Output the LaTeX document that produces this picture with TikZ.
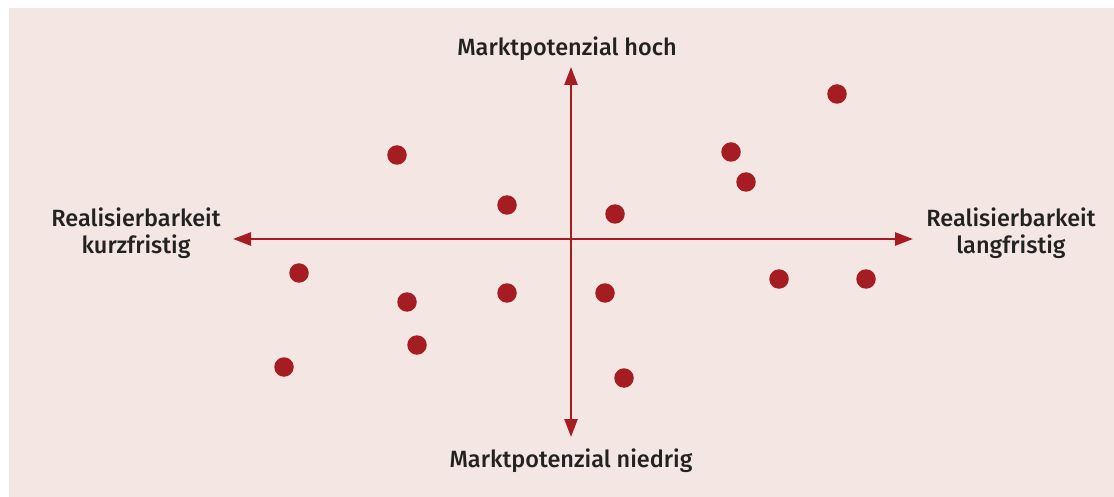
\documentclass[tikz,border=0pt]{standalone}
\usepackage{fontspec}
\setmainfont{Fira Sans}[BoldFont={Fira Sans Medium}]
\usetikzlibrary{arrows.meta}
\definecolor{bgpink}{HTML}{F4E6E2}
\definecolor{axred}{HTML}{A51C22}
\definecolor{txt}{HTML}{222222}
\tikzset{
  axis/.style={draw=axred, line width=2.6pt, {Triangle[length=18pt,width=13pt]}-{Triangle[length=18pt,width=13pt]}},
  dot/.style={circle, fill=axred, inner sep=0pt, minimum size=19.5pt},
  lbl/.style={text=txt, font=\fontsize{23.5}{27}\selectfont\bfseries, align=center, inner sep=0pt},
}
\begin{document}
\begin{tikzpicture}[x=1pt,y=-1pt]
\useasboundingbox (0,0) rectangle (1114,497);
\fill[white] (0,0) rectangle (1114,497);
\fill[bgpink] (9,8) rectangle (1114,497);
\coordinate (L) at (233,239);
\coordinate (R) at (913,239);
\coordinate (T) at (571,67);
\coordinate (B) at (571,437);
\draw[axis] (L) -- (R);
\draw[axis] (T) -- (B);
\node[lbl, anchor=base] (top) at (567,56) {Marktpotenzial hoch};
\node[lbl, anchor=base] (bot) at (571,467) {Marktpotenzial niedrig};
\node[lbl, anchor=base] (left) at (136,254) {Realisierbarkeit\\kurzfristig};
\node[lbl, anchor=base] (right) at (1011,254) {Realisierbarkeit\\langfristig};
\foreach \n/\x/\y in {d1/837/94, d2/397/155, d3/731/152, d4/746/182, d5/507/205, d6/615/214, d7/299/273, d8/407/302, d9/507/293, d10/605/293, d11/779/279, d12/866/279, d13/417/345, d14/284/367, d15/624/378}
  \node[dot] (\n) at (\x,\y) {};
\end{tikzpicture}
\end{document}
